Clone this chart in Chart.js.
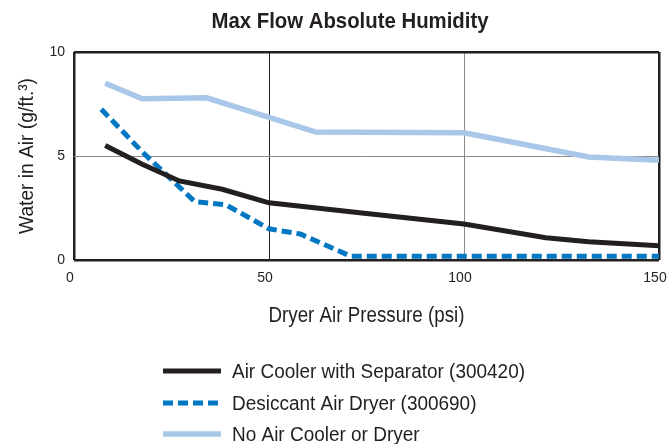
<!DOCTYPE html>
<html>
<head>
<meta charset="utf-8">
<script src="https://cdn.jsdelivr.net/npm/chart.js@4.4.1/dist/chart.umd.min.js"></script>
<style>
  html, body { margin: 0; padding: 0; background: #fff; }
  canvas { display: block; }
</style>
</head>
<body>
<canvas id="chart" width="668" height="444"></canvas>
<script>
const TEXT_FONT = '"Liberation Sans", Arial, sans-serif';
const TEXT = '#231f20';

const chartTitle = 'Max Flow Absolute Humidity';
const xTitle = 'Dryer Air Pressure (psi)';
const yTitle = 'Water in Air (g/ft.\u00b3)';
const xTicks = [0, 50, 100, 150];
const yTicks = [0, 5, 10];

const seriesNames = [
    'Air Cooler with Separator (300420)',
    'Desiccant Air Dryer (300690)',
    'No Air Cooler or Dryer'
];

// pressure (psi) / water (g/ft3)
const coolerX = [8, 17.5, 27, 38, 50, 75, 100, 121, 132, 150];
const coolerY = [5.5, 4.6, 3.8, 3.4, 2.75, 2.24, 1.73, 1.07, 0.88, 0.69];

const dryerX = [7, 17.5, 31, 39, 50, 58, 71, 150];
const dryerY = [7.25, 5.2, 2.8, 2.65, 1.5, 1.25, 0.18, 0.18];

const noneX = [8, 17.5, 34, 62, 100, 132, 150];
const noneY = [8.5, 7.75, 7.8, 6.15, 6.12, 4.95, 4.8];

const toPoints = (xs, ys) => xs.map((x, i) => ({ x: x, y: ys[i] }));

// the original uses a condensed face, so squeeze Liberation Sans horizontally
function condensedText(ctx, text, x, y, size, weight, squeeze, align, angle) {
    ctx.save();
    ctx.font = weight + ' ' + size + 'px ' + TEXT_FONT;
    ctx.fillStyle = TEXT;
    ctx.textAlign = align;
    ctx.textBaseline = 'alphabetic';
    ctx.translate(x, y);
    if (angle) ctx.rotate(angle);
    ctx.scale(squeeze, 1);
    ctx.fillText(text, 0, 0);
    ctx.restore();
}

function squeezeFor(ctx, text, size, weight, width) {
    ctx.save();
    ctx.font = weight + ' ' + size + 'px ' + TEXT_FONT;
    const w = ctx.measureText(text).width;
    ctx.restore();
    return width / w;
}

const titlesPlugin = {
    id: 'condensedTitles',
    afterDraw(chart) {
        const ctx = chart.ctx;
        const area = chart.chartArea;
        let s = squeezeFor(ctx, chartTitle, 22, 'bold', 277);
        condensedText(ctx, chartTitle, 350, 28, 22, 'bold', s, 'center');

        s = squeezeFor(ctx, xTitle, 22, 'normal', 196);
        condensedText(ctx, xTitle, (area.left + area.right) / 2, 322, 22, 'normal', s, 'center');

        s = squeezeFor(ctx, yTitle, 21, 'normal', 156);
        condensedText(ctx, yTitle, 33, (area.top + area.bottom) / 2, 21, 'normal', s, 'center', -Math.PI / 2);
    }
};

// vertical legend with line samples under the axis title
const legendPlugin = {
    id: 'lineLegend',
    afterDraw(chart) {
        const ctx = chart.ctx;
        const rows = [371, 403, 434];
        const s = squeezeFor(ctx, seriesNames[0], 20, 'normal', 293);
        chart.data.datasets.forEach((ds, i) => {
            const y = rows[i];
            ctx.save();
            ctx.beginPath();
            ctx.strokeStyle = ds.borderColor;
            ctx.lineWidth = ds.borderWidth;
            ctx.lineCap = 'butt';
            ctx.setLineDash(ds.borderDash || []);
            ctx.moveTo(163, y);
            ctx.lineTo(221, y);
            ctx.stroke();
            ctx.restore();
            condensedText(ctx, ds.label, 232, y + 7, 20, 'normal', s, 'left');
        });
    }
};

const edgeWidth = 2.5;

new Chart(document.getElementById('chart'), {
    type: 'line',
    data: {
        datasets: [
            {
                label: seriesNames[0],
                data: toPoints(coolerX, coolerY),
                borderColor: '#231f20',
                borderWidth: 5
            },
            {
                label: seriesNames[1],
                data: toPoints(dryerX, dryerY),
                borderColor: '#0077c2',
                borderWidth: 5,
                borderDash: [10, 5]
            },
            {
                label: seriesNames[2],
                data: toPoints(noneX, noneY),
                borderColor: '#a9c7e8',
                borderWidth: 5.5
            }
        ]
    },
    options: {
        responsive: false,
        animation: false,
        devicePixelRatio: 1,
        layout: {
            padding: { top: 52, right: 9, bottom: 109, left: 0 }
        },
        elements: {
            line: { tension: 0, fill: false, borderCapStyle: 'butt' },
            point: { radius: 0 }
        },
        plugins: {
            legend: { display: false },
            title: { display: false },
            tooltip: { enabled: false }
        },
        scales: {
            x: {
                type: 'linear',
                min: 0,
                max: 150,
                afterBuildTicks: (scale) => {
                    scale.ticks = xTicks.map(v => ({ value: v }));
                },
                afterFit: (scale) => {
                    scale.height = 75;
                    scale.paddingLeft = 0;
                    scale.paddingRight = 0;
                },
                border: { display: false },
                grid: {
                    drawTicks: false,
                    color: (ctx) => ctx.index === 2 ? '#8a8a8a' : '#231f20',
                    lineWidth: (ctx) => (ctx.index === 0 || ctx.index === xTicks.length - 1) ? edgeWidth : 1
                },
                ticks: {
                    padding: 10,
                    labelOffset: -4,
                    color: TEXT,
                    font: { family: TEXT_FONT, size: 14 }
                },
                title: { display: false, text: xTitle }
            },
            y: {
                type: 'linear',
                min: 0,
                max: 10,
                afterBuildTicks: (scale) => {
                    scale.ticks = yTicks.map(v => ({ value: v }));
                },
                afterFit: (scale) => {
                    scale.width = 74;
                },
                border: { display: false },
                grid: {
                    drawTicks: false,
                    color: (ctx) => ctx.index === 1 ? '#8a8a8a' : '#231f20',
                    lineWidth: (ctx) => (ctx.index === 0 || ctx.index === yTicks.length - 1) ? edgeWidth : 1
                },
                ticks: {
                    padding: 9,
                    color: TEXT,
                    font: { family: TEXT_FONT, size: 14 }
                },
                title: { display: false, text: yTitle }
            }
        }
    },
    plugins: [titlesPlugin, legendPlugin]
});
</script>
</body>
</html>
